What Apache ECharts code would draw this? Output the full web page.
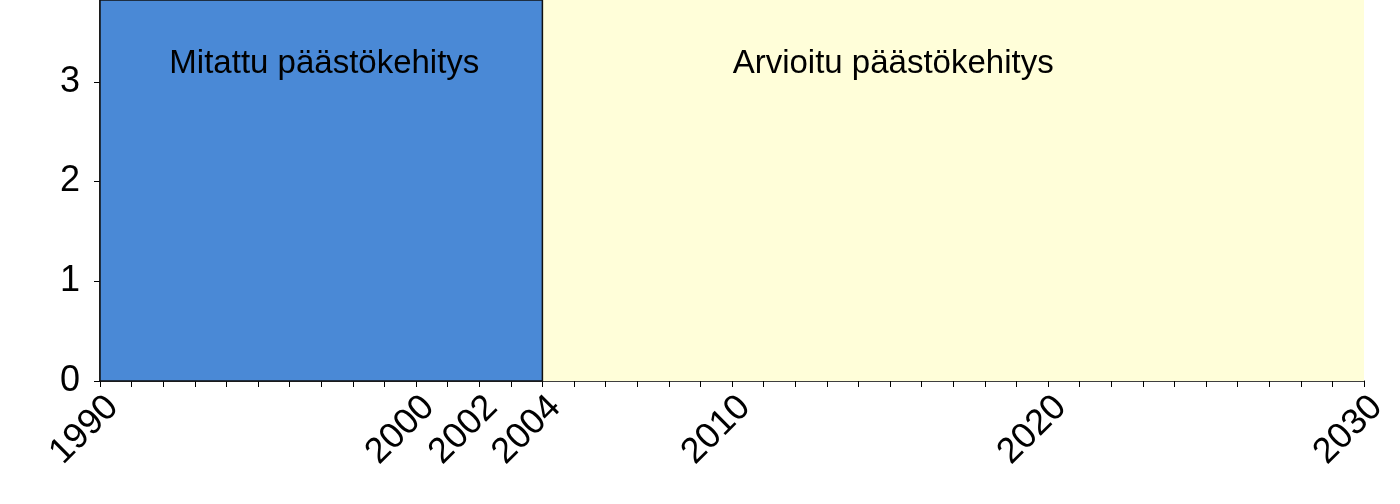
<!DOCTYPE html>
<html>
<head>
<meta charset="utf-8">
<script src="https://cdn.jsdelivr.net/npm/echarts@6/dist/echarts.min.js"></script>
<style>html,body{margin:0;padding:0;background:#fff}#c{width:1400px;height:504px}</style>
</head>
<body>
<div id="c"></div>
<script>
// Data
const periodNames = ['Mitattu päästökehitys', 'Arvioitu päästökehitys'];
const periodStart = [1990, 2004];
const periodEnd = [2004, 2030];
const labelYears = [1997.1, 2015.1];
const labelValues = [3.18, 3.18];
const xTickLabels = [1990, 2000, 2002, 2004, 2010, 2020, 2030];
const yTickLabels = [0, 1, 2, 3];
const xMin = 1990, xMax = 2030, yMin = 0, yMax = 3.82;

const FONT = 'Liberation Sans, Arial, sans-serif';
const chart = echarts.init(document.getElementById('c'), null, {renderer: 'canvas'});

chart.setOption({
  animation: false,
  backgroundColor: '#ffffff',
  grid: {left: 100, right: 36, top: 0, bottom: 123, containLabel: false},
  xAxis: {
    type: 'value', min: xMin, max: xMax, interval: 1,
    splitLine: {show: false},
    axisLine: {show: true, lineStyle: {color: '#000', width: 1.5}},
    axisTick: {show: true, length: 6, inside: false, lineStyle: {color: '#000', width: 1}},
    axisLabel: {
      show: true, rotate: 45, margin: 8, verticalAlign: 'top',
      fontSize: 36, color: '#000', fontFamily: FONT,
      customValues: xTickLabels,
      formatter: v => String(v)
    }
  },
  yAxis: {
    type: 'value', min: yMin, max: yMax, interval: 1,
    splitLine: {show: false},
    axisLine: {show: true, lineStyle: {color: '#000', width: 1.5}},
    axisTick: {show: true, length: 6, customValues: yTickLabels, lineStyle: {color: '#000', width: 1}},
    axisLabel: {
      show: true, margin: 20, fontSize: 36, color: '#000', fontFamily: FONT,
      customValues: yTickLabels,
      formatter: v => String(v)
    }
  },
  series: [
    {
      type: 'line', data: [], silent: true,
      markArea: {
        silent: true,
        label: {show: false},
        data: [
          [{xAxis: periodStart[1], yAxis: yMin, itemStyle: {color: '#FFFED9', borderWidth: 0}}, {xAxis: periodEnd[1], yAxis: yMax}],
          [{xAxis: periodStart[0], yAxis: yMin, itemStyle: {color: '#4A89D6', borderColor: '#111', borderWidth: 1.5}}, {xAxis: periodEnd[0], yAxis: yMax}]
        ]
      }
    },
    {
      type: 'scatter', symbolSize: 1, silent: true,
      itemStyle: {opacity: 0},
      data: labelYears.map((x, i) => ({value: [x, labelValues[i]], name: periodNames[i]})),
      label: {
        show: true, position: 'inside', formatter: p => p.name,
        fontSize: 33, color: '#000000', opacity: 1, fontFamily: FONT
      }
    }
  ]
});
</script>
</body>
</html>
